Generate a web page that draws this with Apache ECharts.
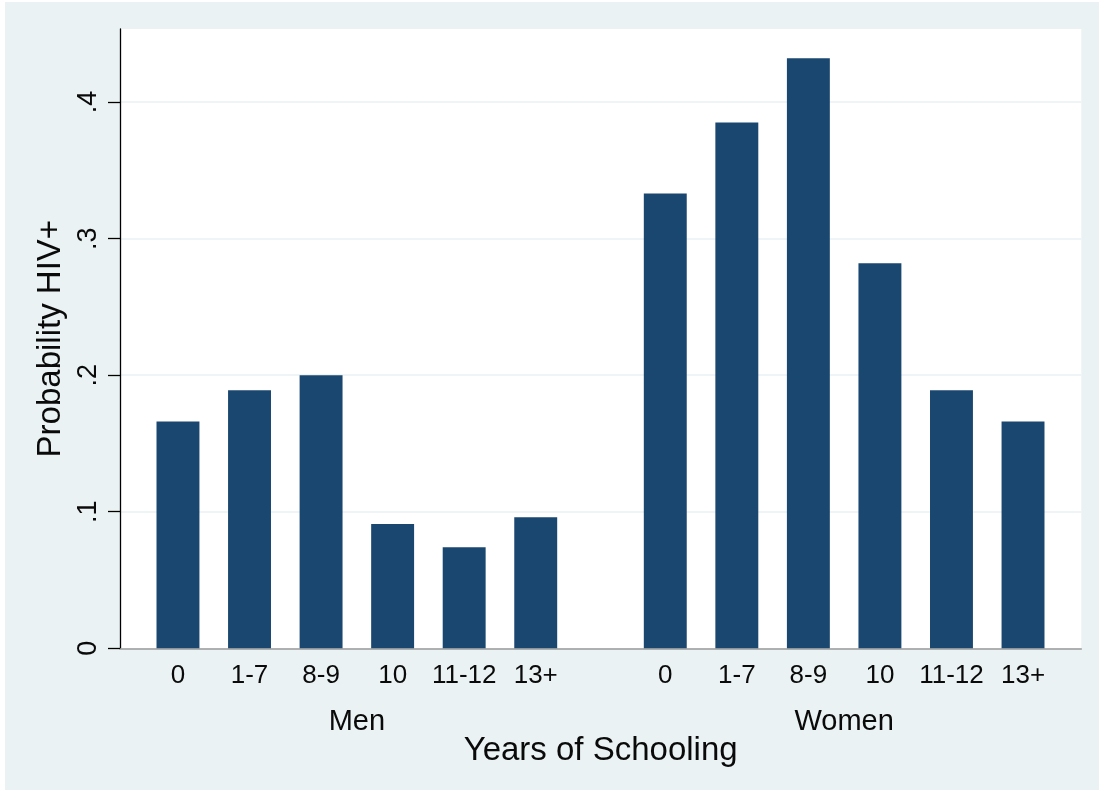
<!DOCTYPE html>
<html>
<head>
<meta charset="utf-8">
<script src="https://cdn.jsdelivr.net/npm/echarts@6/dist/echarts.min.js"></script>
<style>
  html, body { margin: 0; padding: 0; background: #ffffff; width: 1099px; height: 800px; overflow: hidden; }
  #chart { position: absolute; left: 5px; top: 2px; width: 1094px; height: 788px; background: #eaf2f3; }
</style>
</head>
<body>
<div id="chart"></div>
<script>
// ---- data ----
const menCategories = ['0', '1-7', '8-9', '10', '11-12', '13+'];
const womenCategories = ['0', '1-7', '8-9', '10', '11-12', '13+'];
const menValues = [0.166, 0.189, 0.200, 0.091, 0.074, 0.096];
const womenValues = [0.333, 0.385, 0.432, 0.282, 0.189, 0.166];
const groupNames = ['Men', 'Women'];
const yTickValues = [0, 0.1, 0.2, 0.3, 0.4];
const yTickLabels = ['0', '.1', '.2', '.3', '.4'];
const yMax = 0.4535;
const xTitle = 'Years of Schooling';
const yTitle = 'Probability HIV+';

const FONT = '"Liberation Sans", Arial, sans-serif';
const TXT = '#0a0a0a';
const BAR = '#1a476f';

const chart = echarts.init(document.getElementById('chart'), null, { renderer: 'canvas' });

const labelMap = {};
yTickValues.forEach((v, i) => { labelMap[v.toFixed(4)] = yTickLabels[i]; });

const option = {
  animation: false,
  backgroundColor: '#eaf2f3',
  grid: [
    { left: 115, right: 17.7, top: 27, bottom: 141.7, show: true, backgroundColor: '#ffffff', borderWidth: 0 },
    { left: 137.2, right: 527.5, top: 27, bottom: 141.7 },
    { left: 624.5, right: 40.2, top: 27, bottom: 141.7 }
  ],
  xAxis: [
    {
      gridIndex: 0, type: 'value', min: 0, max: 1,
      axisLine: { show: true, lineStyle: { color: '#9a9a9a', width: 1.5 } },
      axisTick: { show: false }, axisLabel: { show: false }, splitLine: { show: false },
      name: xTitle, nameLocation: 'middle', nameGap: 86,
      nameTextStyle: { fontFamily: FONT, fontSize: 33, color: TXT }
    },
    {
      gridIndex: 1, type: 'category', data: menCategories,
      axisLine: { show: false }, axisTick: { show: false },
      axisLabel: { fontFamily: FONT, fontSize: 26, color: TXT, margin: 15, interval: 0 },
      name: groupNames[0], nameLocation: 'middle', nameGap: 59,
      nameTextStyle: { fontFamily: FONT, fontSize: 29, color: TXT }
    },
    {
      gridIndex: 2, type: 'category', data: womenCategories,
      axisLine: { show: false }, axisTick: { show: false },
      axisLabel: { fontFamily: FONT, fontSize: 26, color: TXT, margin: 15, interval: 0 },
      name: groupNames[1], nameLocation: 'middle', nameGap: 59,
      nameTextStyle: { fontFamily: FONT, fontSize: 29, color: TXT }
    }
  ],
  yAxis: [
    {
      gridIndex: 0, type: 'value', min: 0, max: yMax, interval: 0.1,
      axisLine: { show: true, lineStyle: { color: '#000000', width: 1.3 } },
      axisTick: { show: true, length: 12, lineStyle: { color: '#000000', width: 1.3 }, customValues: yTickValues },
      axisLabel: {
        show: true, rotate: 90, fontFamily: FONT, fontSize: 27, color: TXT, margin: 18,
        customValues: yTickValues,
        formatter: function (v) { const k = Number(v).toFixed(4); return labelMap[k] !== undefined ? labelMap[k] : ''; }
      },
      splitLine: { show: true, lineStyle: { color: '#eaf2f3', width: 1.6 } },
      name: yTitle, nameLocation: 'middle', nameGap: 52, nameRotate: 90,
      nameTextStyle: { fontFamily: FONT, fontSize: 33, color: TXT }
    },
    { gridIndex: 1, type: 'value', min: 0, max: yMax, show: false, splitLine: { show: false } },
    { gridIndex: 2, type: 'value', min: 0, max: yMax, show: false, splitLine: { show: false } }
  ],
  series: [
    {
      type: 'bar', xAxisIndex: 1, yAxisIndex: 1, data: menValues,
      barWidth: '60%', itemStyle: { color: BAR }, z: 3
    },
    {
      type: 'bar', xAxisIndex: 2, yAxisIndex: 2, data: womenValues,
      barWidth: '60%', itemStyle: { color: BAR }, z: 3
    }
  ]
};

chart.setOption(option);
</script>
</body>
</html>
